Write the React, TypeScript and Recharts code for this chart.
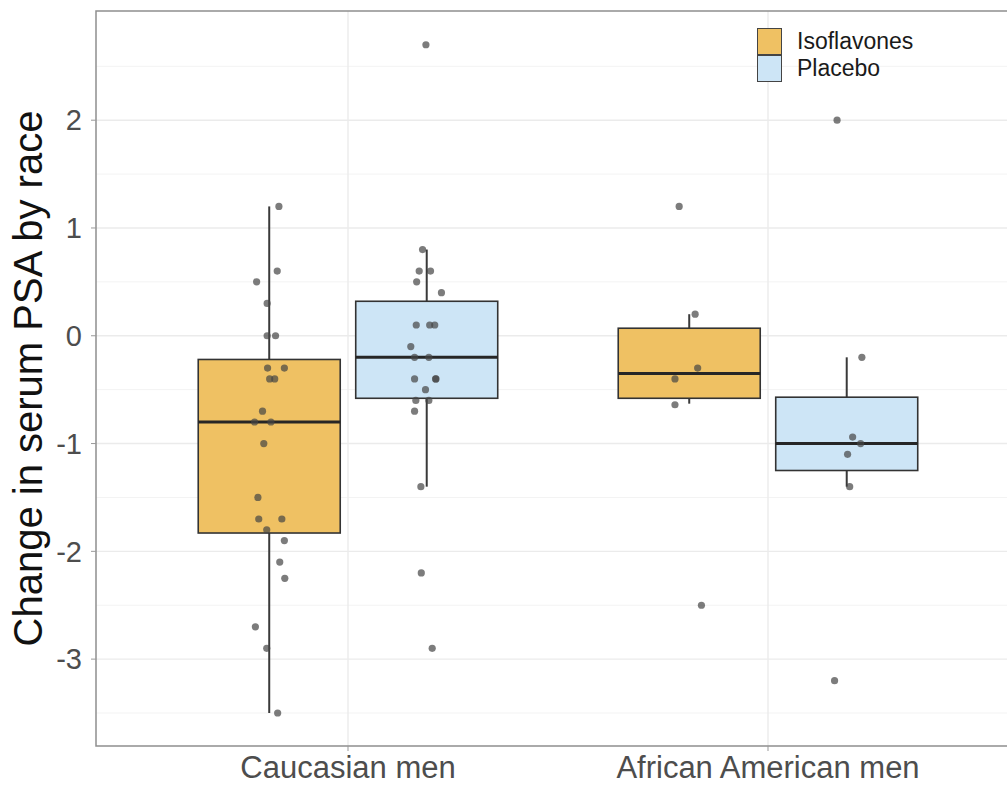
import {
  ComposedChart, Bar, Scatter, XAxis, YAxis, CartesianGrid,
  ReferenceArea, Legend
} from 'recharts'

const FONT = '"Liberation Sans", Arial, sans-serif'

const CATEGORIES = ['Caucasian men', 'African American men']
const TREATMENTS = ['Isoflavones', 'Placebo']
const FILLS = ['#EFC163', '#CDE5F6']

// boxes in order: Caucasian/Iso, Caucasian/Placebo, African American/Iso, African American/Placebo
const WHISKER_LOW  = [-3.5, -1.4, -0.63, -1.4]
const Q1           = [-1.83, -0.58, -0.58, -1.25]
const MEDIAN       = [-0.8, -0.2, -0.35, -1.0]
const Q3           = [-0.22, 0.32, 0.07, -0.57]
const WHISKER_HIGH = [1.2, 0.8, 0.2, -0.2]

// individual changes, with the horizontal jitter
const CAU_ISO = [1.2, 0.6, 0.5, 0.3, 0, 0, -0.3, -0.3, -0.4, -0.4, -0.7, -0.8, -0.8, -1.0, -1.5, -1.7, -1.7, -1.8, -1.9, -2.1, -2.25, -2.7, -2.9, -3.5]
const CAU_ISO_JIT = [0.023, 0.019, -0.03, -0.005, -0.005, 0.015, -0.004, 0.036, 0.001, 0.013, -0.016, -0.035, 0.004, -0.013, -0.027, -0.025, 0.03, -0.006, 0.036, 0.025, 0.037, -0.033, -0.006, 0.02]

const CAU_PLA = [2.7, 0.8, 0.6, 0.6, 0.5, 0.4, 0.1, 0.1, 0.1, -0.1, -0.2, -0.2, -0.4, -0.4, -0.4, -0.5, -0.6, -0.6, -0.7, -1.4, -2.2, -2.9]
const CAU_PLA_JIT = [-0.002, -0.01, -0.018, 0.009, -0.024, 0.035, -0.025, 0.007, 0.019, -0.038, -0.029, 0.005, -0.029, 0.021, 0.022, -0.003, -0.026, 0.005, -0.029, -0.014, -0.013, 0.013]

const AFR_ISO = [1.2, 0.2, -0.3, -0.4, -0.64, -2.5]
const AFR_ISO_JIT = [-0.024, 0.014, 0.02, -0.034, -0.034, 0.029]

const AFR_PLA = [2.0, -0.2, -0.94, -1.0, -1.1, -1.4, -3.2]
const AFR_PLA_JIT = [-0.023, 0.036, 0.014, 0.033, 0.002, 0.007, -0.029]

const Y_TICKS = [-3, -2, -1, 0, 1, 2]
const Y_MINOR = [-3.5, -2.5, -1.5, -0.5, 0.5, 1.5, 2.5]
const Y_DOMAIN: [number, number] = [-3.806, 3.013]
const X_DOMAIN: [number, number] = [0.4, 2.6]
const DODGE = 0.1875
const BOX_W = 142

const boxes = WHISKER_LOW.map((lo, i) => ({
  x: Math.floor(i / 2) + 1 + (i % 2 ? DODGE : -DODGE),
  lo, q1: Q1[i], med: MEDIAN[i], q3: Q3[i], hi: WHISKER_HIGH[i],
  fill: FILLS[i % 2],
}))

const pointSets = [
  [CAU_ISO, CAU_ISO_JIT], [CAU_PLA, CAU_PLA_JIT],
  [AFR_ISO, AFR_ISO_JIT], [AFR_PLA, AFR_PLA_JIT],
].map(([vals, jit], i) => vals.map((y, j) => ({ x: boxes[i].x + jit[j], y })))

function BoxShape(props: any) {
  const { x, y, width, height, payload } = props
  const top = Math.min(y, y + height)
  const h = Math.abs(height)
  const ppu = h / (payload.q3 - payload.q1)
  const cx = x + (width || 0) / 2
  const left = cx - BOX_W / 2
  const yHi = top - (payload.hi - payload.q3) * ppu
  const yLo = top + h + (payload.q1 - payload.lo) * ppu
  const yMed = top + (payload.q3 - payload.med) * ppu
  return (
    <g>
      <line x1={cx} x2={cx} y1={yHi} y2={top} stroke="#3a3a3a" strokeWidth={2} />
      <line x1={cx} x2={cx} y1={top + h} y2={yLo} stroke="#3a3a3a" strokeWidth={2} />
      <rect x={left} y={top} width={BOX_W} height={h} fill={payload.fill} stroke="#333" strokeWidth={1.6} />
      <line x1={left} x2={left + BOX_W} y1={yMed} y2={yMed} stroke="#262626" strokeWidth={3} />
    </g>
  )
}

const Dot = (p: any) => (
  <circle cx={p.cx} cy={p.cy} r={3.6} fill="#454545" fillOpacity={0.7} />
)

function LegendBox() {
  return (
    <div style={{ fontFamily: FONT }}>
      {TREATMENTS.map((t, i) => (
        <div key={t} style={{ display: 'flex', alignItems: 'center', height: 27 }}>
          <span style={{
            display: 'inline-block', width: 25, height: 27, boxSizing: 'border-box',
            background: FILLS[i], border: '1.5px solid #444',
          }} />
          <span style={{ marginLeft: 15, fontSize: 23, color: '#1a1a1a' }}>{t}</span>
        </div>
      ))}
    </div>
  )
}

export default function App() {
  return (
    <div style={{
      position: 'absolute', left: 0, top: 0, width: 1007, height: 786,
      overflow: 'hidden', background: '#fff',
    }}>
      <ComposedChart
        width={1030} height={786} data={boxes}
        margin={{ top: 11, right: 10, bottom: 0, left: 0 }}
        style={{ fontFamily: FONT }}
      >
        <CartesianGrid horizontalValues={Y_MINOR} vertical={false} stroke="#f3f3f3" strokeWidth={1} />
        <CartesianGrid horizontalValues={Y_TICKS} verticalValues={[1, 2]} stroke="#ebebeb" strokeWidth={1.4} />
        <XAxis
          dataKey="x" type="number" domain={X_DOMAIN} ticks={[1, 2]}
          allowDataOverflow height={40}
          tickFormatter={(v: number) => CATEGORIES[v - 1]}
          tick={{ fontSize: 31, fill: '#4d4d4d' }}
          tickLine={{ stroke: '#999' }} tickSize={5} tickMargin={5}
          axisLine={false} interval={0}
        />
        <YAxis
          type="number" domain={Y_DOMAIN} ticks={Y_TICKS} allowDataOverflow
          width={96}
          tick={{ fontSize: 29, fill: '#4d4d4d' }}
          tickLine={{ stroke: '#999' }} tickSize={5} tickMargin={9}
          axisLine={false}
          label={{
            value: 'Change in serum PSA by race', angle: -90, position: 'insideLeft',
            offset: 28, style: { textAnchor: 'middle', fontSize: 40, fill: '#111' },
          }}
        />
        <Bar
          dataKey={(d: any) => [d.q1, d.q3]} barSize={BOX_W}
          shape={BoxShape} isAnimationActive={false}
        />
        {pointSets.map((pts, i) => (
          <Scatter key={i} data={pts} dataKey="y" shape={Dot} isAnimationActive={false} />
        ))}
        <ReferenceArea
          x1={X_DOMAIN[0]} x2={X_DOMAIN[1]} y1={Y_DOMAIN[0]} y2={Y_DOMAIN[1]}
          fill="none" fillOpacity={0} stroke="#8f8f8f" strokeWidth={1.5} strokeOpacity={1}
        />
        <Legend
          layout="vertical" align="center" verticalAlign="middle"
          wrapperStyle={{ left: 757, top: 28, width: 220, height: 56 }}
          content={() => <LegendBox />}
        />
      </ComposedChart>
    </div>
  )
}
